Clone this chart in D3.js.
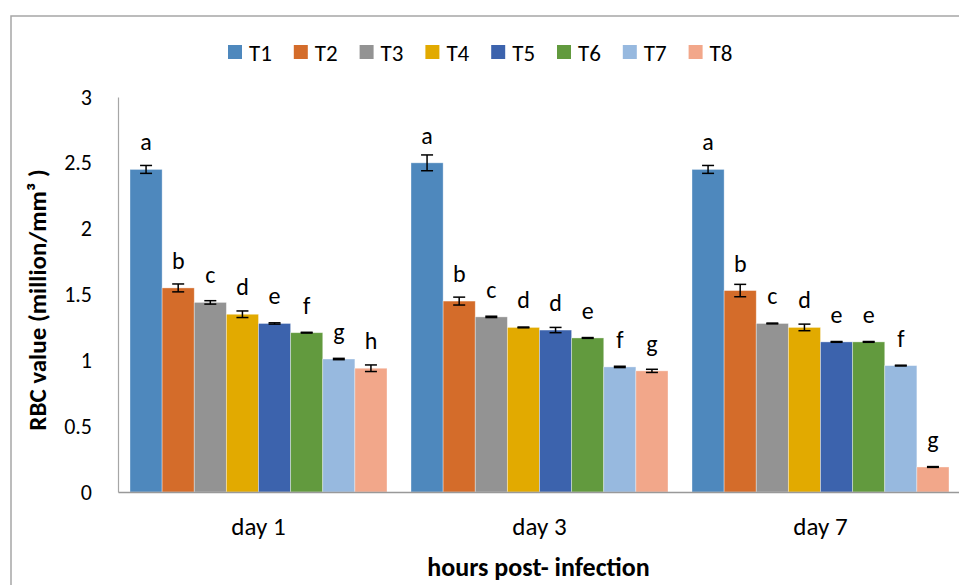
<!DOCTYPE html>
<html>
<head>
<meta charset="utf-8">
<script src="https://cdn.jsdelivr.net/npm/d3@7"></script>
<style>
  html, body { margin: 0; padding: 0; background: #fff; }
  svg { display: block; }
  text { font-family: Carlito, Calibri, Lato, sans-serif; fill: #000; }
</style>
</head>
<body>
<svg id="chart" width="959" height="585"></svg>
<script>
// ---- data ----
const days = ["day 1", "day 3", "day 7"];
const series = ["T1", "T2", "T3", "T4", "T5", "T6", "T7", "T8"];
const colors = ["#4e88bd", "#d46c2a", "#939393", "#e2aa00", "#3c63ad", "#629a3e", "#97b9df", "#f2a78a"];

const day1Values = [2.45, 1.55, 1.44, 1.35, 1.28, 1.21, 1.01, 0.94];
const day1Errors = [0.03, 0.03, 0.013, 0.025, 0.005, 0.003, 0.005, 0.025];
const day1Letters = ["a", "b", "c", "d", "e", "f", "g", "h"];

const day3Values = [2.50, 1.45, 1.33, 1.25, 1.23, 1.17, 0.95, 0.92];
const day3Errors = [0.06, 0.03, 0.005, 0.003, 0.02, 0.003, 0.005, 0.012];
const day3Letters = ["a", "b", "c", "d", "d", "e", "f", "g"];

const day7Values = [2.45, 1.53, 1.28, 1.25, 1.14, 1.14, 0.96, 0.19];
const day7Errors = [0.03, 0.047, 0.003, 0.025, 0.003, 0.003, 0.003, 0.003];
const day7Letters = ["a", "b", "c", "d", "e", "e", "f", "g"];

const yTicks = [0, 0.5, 1, 1.5, 2, 2.5, 3];

const groups = [
  { day: days[0], values: day1Values, errors: day1Errors, letters: day1Letters },
  { day: days[1], values: day3Values, errors: day3Errors, letters: day3Letters },
  { day: days[2], values: day7Values, errors: day7Errors, letters: day7Letters }
];

// ---- layout ----
const svg = d3.select("#chart");
const plotLeft = 118, plotRight = 961, plotTop = 97, plotBottom = 492;
const FONT = "Carlito, Calibri, Lato, sans-serif";

// outer chart border
svg.append("rect")
  .attr("x", 11).attr("y", 16).attr("width", 1000).attr("height", 1000)
  .attr("fill", "none").attr("stroke", "#a6a6a6").attr("stroke-width", 1.5);

const y = d3.scaleLinear().domain([0, 3]).range([plotBottom, plotTop]);
const x0 = d3.scaleBand().domain(days).range([plotLeft, plotRight])
  .paddingInner(24 / 281).paddingOuter(12 / 281);
const x1 = d3.scaleBand().domain(series).range([0, x0.bandwidth()]);
const color = d3.scaleOrdinal().domain(series).range(colors);

// bars
const g = svg.selectAll("g.group").data(groups).enter().append("g")
  .attr("class", "group")
  .attr("transform", d => `translate(${x0(d.day)},0)`);

const items = g.selectAll("g.item")
  .data(d => series.map((s, i) => ({ s, v: d.values[i], e: d.errors[i], l: d.letters[i] })))
  .enter().append("g").attr("class", "item");

items.append("rect")
  .attr("x", d => x1(d.s))
  .attr("y", d => y(d.v))
  .attr("width", x1.bandwidth())
  .attr("height", d => y(0) - y(d.v))
  .attr("fill", d => color(d.s))
  .attr("stroke", "#ffffff").attr("stroke-opacity", 0.45).attr("stroke-width", 0.8);

// error bars
const capW = 12;
items.append("line")
  .attr("x1", d => x1(d.s) + x1.bandwidth() / 2)
  .attr("x2", d => x1(d.s) + x1.bandwidth() / 2)
  .attr("y1", d => y(d.v + d.e)).attr("y2", d => y(d.v - d.e))
  .attr("stroke", "#000").attr("stroke-width", 1.5);
items.append("line")
  .attr("x1", d => x1(d.s) + x1.bandwidth() / 2 - capW / 2)
  .attr("x2", d => x1(d.s) + x1.bandwidth() / 2 + capW / 2)
  .attr("y1", d => y(d.v + d.e)).attr("y2", d => y(d.v + d.e))
  .attr("stroke", "#000").attr("stroke-width", 1.5);
items.append("line")
  .attr("x1", d => x1(d.s) + x1.bandwidth() / 2 - capW / 2)
  .attr("x2", d => x1(d.s) + x1.bandwidth() / 2 + capW / 2)
  .attr("y1", d => y(d.v - d.e)).attr("y2", d => y(d.v - d.e))
  .attr("stroke", "#000").attr("stroke-width", 1.5);

// significance letters
items.append("text")
  .attr("x", d => x1(d.s) + x1.bandwidth() / 2)
  .attr("y", d => y(d.v) - 19)
  .attr("text-anchor", "middle")
  .style("font-size", "24px")
  .text(d => d.l);

// y axis
const yAxis = d3.axisLeft(y).tickValues(yTicks).tickSize(0).tickPadding(26)
  .tickFormat(d3.format("~g"));
const ya = svg.append("g").attr("transform", `translate(${plotLeft},0)`).call(yAxis);
ya.select(".domain").attr("stroke", "#a6a6a6").attr("stroke-width", 1.2);
ya.selectAll("text").style("font-size", "22px").style("font-family", FONT).attr("fill", "#000");

// x axis
const xAxis = d3.axisBottom(x0).tickSize(0).tickPadding(0);
const xa = svg.append("g").attr("transform", `translate(0,${plotBottom})`).call(xAxis);
xa.select(".domain").attr("stroke", "#999").attr("stroke-width", 1.6);
xa.selectAll("text").attr("dy", null).attr("y", 43)
  .style("font-size", "25px").style("font-family", FONT).attr("fill", "#000");

// axis titles
svg.append("text")
  .attr("x", (plotLeft + plotRight) / 2 - 1).attr("y", 576)
  .attr("text-anchor", "middle")
  .style("font-size", "26px").style("font-weight", "bold")
  .text("hours post- infection");

svg.append("text")
  .attr("transform", "translate(46,300) rotate(-90)")
  .attr("text-anchor", "middle")
  .style("font-size", "25px").style("font-weight", "bold")
  .text("RBC value (million/mm³ )");

// legend
const legend = svg.append("g").attr("transform", "translate(228,45)");
const li = legend.selectAll("g").data(series).enter().append("g")
  .attr("transform", (d, i) => `translate(${i * 65.8},0)`);
li.append("rect").attr("width", 14).attr("height", 14).attr("fill", d => color(d));
li.append("text").attr("x", 21).attr("y", 15.5)
  .style("font-size", "23px").text(d => d);
</script>
</body>
</html>
